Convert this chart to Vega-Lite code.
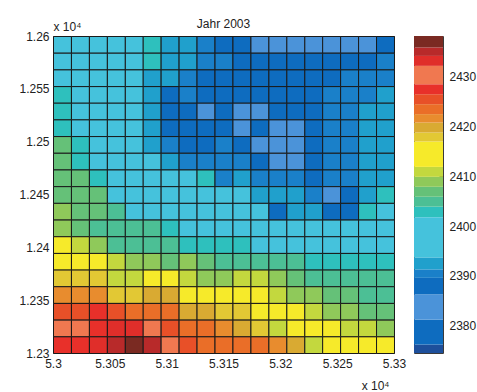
{
"$schema": "https://vega.github.io/schema/vega-lite/v6.json",
"autosize": {"type": "pad"},
"padding": {"left": 18, "top": 17, "right": 0, "bottom": 0},
"config": {
  "font": "Liberation Sans",
  "view": {"stroke": "#3a3a3a", "strokeWidth": 1},
  "axis": {"labelFont": "Liberation Sans", "labelFontSize": 12, "labelColor": "#222", "titleFont": "Liberation Sans", "titleFontSize": 12, "titleFontWeight": "normal", "titleColor": "#222", "grid": false, "domain": false, "ticks": false, "labelFlush": false, "labelOverlap": false}
},
"datasets": {
"cells": [
{"x":5.3,"y":1.25842,"v":2397.7},{"x":5.30158,"y":1.25842,"v":2397.7},{"x":5.30316,"y":1.25842,"v":2397.7},{"x":5.30474,"y":1.25842,"v":2397.7},{"x":5.30632,"y":1.25842,"v":2397.7},{"x":5.30789,"y":1.25842,"v":2402.8},{"x":5.30947,"y":1.25842,"v":2392.5},{"x":5.31105,"y":1.25842,"v":2392.5},{"x":5.31263,"y":1.25842,"v":2390.4},{"x":5.31421,"y":1.25842,"v":2378.7},{"x":5.31579,"y":1.25842,"v":2378.7},{"x":5.31737,"y":1.25842,"v":2383.7},{"x":5.31895,"y":1.25842,"v":2383.7},{"x":5.32053,"y":1.25842,"v":2383.7},{"x":5.32211,"y":1.25842,"v":2383.7},{"x":5.32368,"y":1.25842,"v":2383.7},{"x":5.32526,"y":1.25842,"v":2383.7},{"x":5.32684,"y":1.25842,"v":2383.7},{"x":5.32842,"y":1.25842,"v":2378.7},
{"x":5.3,"y":1.25684,"v":2397.7},{"x":5.30158,"y":1.25684,"v":2397.7},{"x":5.30316,"y":1.25684,"v":2397.7},{"x":5.30474,"y":1.25684,"v":2397.7},{"x":5.30632,"y":1.25684,"v":2397.7},{"x":5.30789,"y":1.25684,"v":2402.8},{"x":5.30947,"y":1.25684,"v":2392.5},{"x":5.31105,"y":1.25684,"v":2392.5},{"x":5.31263,"y":1.25684,"v":2390.4},{"x":5.31421,"y":1.25684,"v":2390.4},{"x":5.31579,"y":1.25684,"v":2378.7},{"x":5.31737,"y":1.25684,"v":2378.7},{"x":5.31895,"y":1.25684,"v":2378.7},{"x":5.32053,"y":1.25684,"v":2378.7},{"x":5.32211,"y":1.25684,"v":2378.7},{"x":5.32368,"y":1.25684,"v":2378.7},{"x":5.32526,"y":1.25684,"v":2378.7},{"x":5.32684,"y":1.25684,"v":2378.7},{"x":5.32842,"y":1.25684,"v":2390.4},
{"x":5.3,"y":1.25526,"v":2397.7},{"x":5.30158,"y":1.25526,"v":2397.7},{"x":5.30316,"y":1.25526,"v":2397.7},{"x":5.30474,"y":1.25526,"v":2397.7},{"x":5.30632,"y":1.25526,"v":2397.7},{"x":5.30789,"y":1.25526,"v":2392.5},{"x":5.30947,"y":1.25526,"v":2392.5},{"x":5.31105,"y":1.25526,"v":2390.4},{"x":5.31263,"y":1.25526,"v":2378.7},{"x":5.31421,"y":1.25526,"v":2378.7},{"x":5.31579,"y":1.25526,"v":2378.7},{"x":5.31737,"y":1.25526,"v":2378.7},{"x":5.31895,"y":1.25526,"v":2378.7},{"x":5.32053,"y":1.25526,"v":2378.7},{"x":5.32211,"y":1.25526,"v":2378.7},{"x":5.32368,"y":1.25526,"v":2378.7},{"x":5.32526,"y":1.25526,"v":2390.4},{"x":5.32684,"y":1.25526,"v":2390.4},{"x":5.32842,"y":1.25526,"v":2390.4},
{"x":5.3,"y":1.25368,"v":2402.8},{"x":5.30158,"y":1.25368,"v":2397.7},{"x":5.30316,"y":1.25368,"v":2397.7},{"x":5.30474,"y":1.25368,"v":2397.7},{"x":5.30632,"y":1.25368,"v":2397.7},{"x":5.30789,"y":1.25368,"v":2392.5},{"x":5.30947,"y":1.25368,"v":2378.7},{"x":5.31105,"y":1.25368,"v":2390.4},{"x":5.31263,"y":1.25368,"v":2378.7},{"x":5.31421,"y":1.25368,"v":2378.7},{"x":5.31579,"y":1.25368,"v":2378.7},{"x":5.31737,"y":1.25368,"v":2378.7},{"x":5.31895,"y":1.25368,"v":2378.7},{"x":5.32053,"y":1.25368,"v":2378.7},{"x":5.32211,"y":1.25368,"v":2378.7},{"x":5.32368,"y":1.25368,"v":2390.4},{"x":5.32526,"y":1.25368,"v":2390.4},{"x":5.32684,"y":1.25368,"v":2390.4},{"x":5.32842,"y":1.25368,"v":2392.5},
{"x":5.3,"y":1.25211,"v":2402.8},{"x":5.30158,"y":1.25211,"v":2397.7},{"x":5.30316,"y":1.25211,"v":2397.7},{"x":5.30474,"y":1.25211,"v":2397.7},{"x":5.30632,"y":1.25211,"v":2397.7},{"x":5.30789,"y":1.25211,"v":2392.5},{"x":5.30947,"y":1.25211,"v":2378.7},{"x":5.31105,"y":1.25211,"v":2378.7},{"x":5.31263,"y":1.25211,"v":2383.7},{"x":5.31421,"y":1.25211,"v":2378.7},{"x":5.31579,"y":1.25211,"v":2383.7},{"x":5.31737,"y":1.25211,"v":2383.7},{"x":5.31895,"y":1.25211,"v":2378.7},{"x":5.32053,"y":1.25211,"v":2378.7},{"x":5.32211,"y":1.25211,"v":2378.7},{"x":5.32368,"y":1.25211,"v":2390.4},{"x":5.32526,"y":1.25211,"v":2390.4},{"x":5.32684,"y":1.25211,"v":2392.5},{"x":5.32842,"y":1.25211,"v":2392.5},
{"x":5.3,"y":1.25053,"v":2402.8},{"x":5.30158,"y":1.25053,"v":2397.7},{"x":5.30316,"y":1.25053,"v":2397.7},{"x":5.30474,"y":1.25053,"v":2397.7},{"x":5.30632,"y":1.25053,"v":2397.7},{"x":5.30789,"y":1.25053,"v":2392.5},{"x":5.30947,"y":1.25053,"v":2378.7},{"x":5.31105,"y":1.25053,"v":2378.7},{"x":5.31263,"y":1.25053,"v":2378.7},{"x":5.31421,"y":1.25053,"v":2378.7},{"x":5.31579,"y":1.25053,"v":2383.7},{"x":5.31737,"y":1.25053,"v":2378.7},{"x":5.31895,"y":1.25053,"v":2383.7},{"x":5.32053,"y":1.25053,"v":2383.7},{"x":5.32211,"y":1.25053,"v":2378.7},{"x":5.32368,"y":1.25053,"v":2390.4},{"x":5.32526,"y":1.25053,"v":2390.4},{"x":5.32684,"y":1.25053,"v":2392.5},{"x":5.32842,"y":1.25053,"v":2392.5},
{"x":5.3,"y":1.24895,"v":2406.9},{"x":5.30158,"y":1.24895,"v":2402.8},{"x":5.30316,"y":1.24895,"v":2397.7},{"x":5.30474,"y":1.24895,"v":2397.7},{"x":5.30632,"y":1.24895,"v":2397.7},{"x":5.30789,"y":1.24895,"v":2392.5},{"x":5.30947,"y":1.24895,"v":2390.4},{"x":5.31105,"y":1.24895,"v":2378.7},{"x":5.31263,"y":1.24895,"v":2378.7},{"x":5.31421,"y":1.24895,"v":2390.4},{"x":5.31579,"y":1.24895,"v":2378.7},{"x":5.31737,"y":1.24895,"v":2383.7},{"x":5.31895,"y":1.24895,"v":2383.7},{"x":5.32053,"y":1.24895,"v":2383.7},{"x":5.32211,"y":1.24895,"v":2378.7},{"x":5.32368,"y":1.24895,"v":2390.4},{"x":5.32526,"y":1.24895,"v":2390.4},{"x":5.32684,"y":1.24895,"v":2392.5},{"x":5.32842,"y":1.24895,"v":2392.5},
{"x":5.3,"y":1.24737,"v":2406.9},{"x":5.30158,"y":1.24737,"v":2402.8},{"x":5.30316,"y":1.24737,"v":2397.7},{"x":5.30474,"y":1.24737,"v":2397.7},{"x":5.30632,"y":1.24737,"v":2397.7},{"x":5.30789,"y":1.24737,"v":2397.7},{"x":5.30947,"y":1.24737,"v":2392.5},{"x":5.31105,"y":1.24737,"v":2390.4},{"x":5.31263,"y":1.24737,"v":2390.4},{"x":5.31421,"y":1.24737,"v":2390.4},{"x":5.31579,"y":1.24737,"v":2390.4},{"x":5.31737,"y":1.24737,"v":2378.7},{"x":5.31895,"y":1.24737,"v":2383.7},{"x":5.32053,"y":1.24737,"v":2383.7},{"x":5.32211,"y":1.24737,"v":2378.7},{"x":5.32368,"y":1.24737,"v":2390.4},{"x":5.32526,"y":1.24737,"v":2390.4},{"x":5.32684,"y":1.24737,"v":2392.5},{"x":5.32842,"y":1.24737,"v":2392.5},
{"x":5.3,"y":1.24579,"v":2406.9},{"x":5.30158,"y":1.24579,"v":2406.9},{"x":5.30316,"y":1.24579,"v":2402.8},{"x":5.30474,"y":1.24579,"v":2397.7},{"x":5.30632,"y":1.24579,"v":2397.7},{"x":5.30789,"y":1.24579,"v":2397.7},{"x":5.30947,"y":1.24579,"v":2397.7},{"x":5.31105,"y":1.24579,"v":2397.7},{"x":5.31263,"y":1.24579,"v":2402.8},{"x":5.31421,"y":1.24579,"v":2390.4},{"x":5.31579,"y":1.24579,"v":2392.5},{"x":5.31737,"y":1.24579,"v":2390.4},{"x":5.31895,"y":1.24579,"v":2390.4},{"x":5.32053,"y":1.24579,"v":2390.4},{"x":5.32211,"y":1.24579,"v":2378.7},{"x":5.32368,"y":1.24579,"v":2390.4},{"x":5.32526,"y":1.24579,"v":2390.4},{"x":5.32684,"y":1.24579,"v":2392.5},{"x":5.32842,"y":1.24579,"v":2392.5},
{"x":5.3,"y":1.24421,"v":2406.9},{"x":5.30158,"y":1.24421,"v":2406.9},{"x":5.30316,"y":1.24421,"v":2406.9},{"x":5.30474,"y":1.24421,"v":2397.7},{"x":5.30632,"y":1.24421,"v":2397.7},{"x":5.30789,"y":1.24421,"v":2397.7},{"x":5.30947,"y":1.24421,"v":2397.7},{"x":5.31105,"y":1.24421,"v":2397.7},{"x":5.31263,"y":1.24421,"v":2397.7},{"x":5.31421,"y":1.24421,"v":2397.7},{"x":5.31579,"y":1.24421,"v":2397.7},{"x":5.31737,"y":1.24421,"v":2392.5},{"x":5.31895,"y":1.24421,"v":2392.5},{"x":5.32053,"y":1.24421,"v":2392.5},{"x":5.32211,"y":1.24421,"v":2390.4},{"x":5.32368,"y":1.24421,"v":2383.7},{"x":5.32526,"y":1.24421,"v":2378.7},{"x":5.32684,"y":1.24421,"v":2392.5},{"x":5.32842,"y":1.24421,"v":2402.8},
{"x":5.3,"y":1.24263,"v":2408.9},{"x":5.30158,"y":1.24263,"v":2406.9},{"x":5.30316,"y":1.24263,"v":2406.9},{"x":5.30474,"y":1.24263,"v":2404.9},{"x":5.30632,"y":1.24263,"v":2397.7},{"x":5.30789,"y":1.24263,"v":2397.7},{"x":5.30947,"y":1.24263,"v":2397.7},{"x":5.31105,"y":1.24263,"v":2397.7},{"x":5.31263,"y":1.24263,"v":2397.7},{"x":5.31421,"y":1.24263,"v":2397.7},{"x":5.31579,"y":1.24263,"v":2397.7},{"x":5.31737,"y":1.24263,"v":2397.7},{"x":5.31895,"y":1.24263,"v":2378.7},{"x":5.32053,"y":1.24263,"v":2392.5},{"x":5.32211,"y":1.24263,"v":2392.5},{"x":5.32368,"y":1.24263,"v":2378.7},{"x":5.32526,"y":1.24263,"v":2378.7},{"x":5.32684,"y":1.24263,"v":2402.8},{"x":5.32842,"y":1.24263,"v":2397.7},
{"x":5.3,"y":1.24105,"v":2408.9},{"x":5.30158,"y":1.24105,"v":2406.9},{"x":5.30316,"y":1.24105,"v":2404.9},{"x":5.30474,"y":1.24105,"v":2404.9},{"x":5.30632,"y":1.24105,"v":2404.9},{"x":5.30789,"y":1.24105,"v":2404.9},{"x":5.30947,"y":1.24105,"v":2402.8},{"x":5.31105,"y":1.24105,"v":2397.7},{"x":5.31263,"y":1.24105,"v":2397.7},{"x":5.31421,"y":1.24105,"v":2397.7},{"x":5.31579,"y":1.24105,"v":2397.7},{"x":5.31737,"y":1.24105,"v":2397.7},{"x":5.31895,"y":1.24105,"v":2397.7},{"x":5.32053,"y":1.24105,"v":2397.7},{"x":5.32211,"y":1.24105,"v":2397.7},{"x":5.32368,"y":1.24105,"v":2397.7},{"x":5.32526,"y":1.24105,"v":2397.7},{"x":5.32684,"y":1.24105,"v":2397.7},{"x":5.32842,"y":1.24105,"v":2397.7},
{"x":5.3,"y":1.23947,"v":2414.5},{"x":5.30158,"y":1.23947,"v":2410.9},{"x":5.30316,"y":1.23947,"v":2408.9},{"x":5.30474,"y":1.23947,"v":2404.9},{"x":5.30632,"y":1.23947,"v":2404.9},{"x":5.30789,"y":1.23947,"v":2404.9},{"x":5.30947,"y":1.23947,"v":2404.9},{"x":5.31105,"y":1.23947,"v":2402.8},{"x":5.31263,"y":1.23947,"v":2402.8},{"x":5.31421,"y":1.23947,"v":2402.8},{"x":5.31579,"y":1.23947,"v":2402.8},{"x":5.31737,"y":1.23947,"v":2397.7},{"x":5.31895,"y":1.23947,"v":2397.7},{"x":5.32053,"y":1.23947,"v":2397.7},{"x":5.32211,"y":1.23947,"v":2397.7},{"x":5.32368,"y":1.23947,"v":2397.7},{"x":5.32526,"y":1.23947,"v":2397.7},{"x":5.32684,"y":1.23947,"v":2397.7},{"x":5.32842,"y":1.23947,"v":2397.7},
{"x":5.3,"y":1.23789,"v":2414.5},{"x":5.30158,"y":1.23789,"v":2414.5},{"x":5.30316,"y":1.23789,"v":2414.5},{"x":5.30474,"y":1.23789,"v":2410.9},{"x":5.30632,"y":1.23789,"v":2408.9},{"x":5.30789,"y":1.23789,"v":2408.9},{"x":5.30947,"y":1.23789,"v":2406.9},{"x":5.31105,"y":1.23789,"v":2408.9},{"x":5.31263,"y":1.23789,"v":2406.9},{"x":5.31421,"y":1.23789,"v":2404.9},{"x":5.31579,"y":1.23789,"v":2404.9},{"x":5.31737,"y":1.23789,"v":2404.9},{"x":5.31895,"y":1.23789,"v":2404.9},{"x":5.32053,"y":1.23789,"v":2404.9},{"x":5.32211,"y":1.23789,"v":2402.8},{"x":5.32368,"y":1.23789,"v":2402.8},{"x":5.32526,"y":1.23789,"v":2402.8},{"x":5.32684,"y":1.23789,"v":2402.8},{"x":5.32842,"y":1.23789,"v":2402.8},
{"x":5.3,"y":1.23632,"v":2417.9},{"x":5.30158,"y":1.23632,"v":2417.9},{"x":5.30316,"y":1.23632,"v":2417.9},{"x":5.30474,"y":1.23632,"v":2410.9},{"x":5.30632,"y":1.23632,"v":2410.9},{"x":5.30789,"y":1.23632,"v":2414.5},{"x":5.30947,"y":1.23632,"v":2414.5},{"x":5.31105,"y":1.23632,"v":2410.9},{"x":5.31263,"y":1.23632,"v":2408.9},{"x":5.31421,"y":1.23632,"v":2408.9},{"x":5.31579,"y":1.23632,"v":2410.9},{"x":5.31737,"y":1.23632,"v":2410.9},{"x":5.31895,"y":1.23632,"v":2408.9},{"x":5.32053,"y":1.23632,"v":2406.9},{"x":5.32211,"y":1.23632,"v":2404.9},{"x":5.32368,"y":1.23632,"v":2404.9},{"x":5.32526,"y":1.23632,"v":2404.9},{"x":5.32684,"y":1.23632,"v":2404.9},{"x":5.32842,"y":1.23632,"v":2404.9},
{"x":5.3,"y":1.23474,"v":2421.6},{"x":5.30158,"y":1.23474,"v":2421.6},{"x":5.30316,"y":1.23474,"v":2421.6},{"x":5.30474,"y":1.23474,"v":2417.9},{"x":5.30632,"y":1.23474,"v":2417.9},{"x":5.30789,"y":1.23474,"v":2419.8},{"x":5.30947,"y":1.23474,"v":2419.8},{"x":5.31105,"y":1.23474,"v":2414.5},{"x":5.31263,"y":1.23474,"v":2414.5},{"x":5.31421,"y":1.23474,"v":2414.5},{"x":5.31579,"y":1.23474,"v":2414.5},{"x":5.31737,"y":1.23474,"v":2414.5},{"x":5.31895,"y":1.23474,"v":2410.9},{"x":5.32053,"y":1.23474,"v":2408.9},{"x":5.32211,"y":1.23474,"v":2408.9},{"x":5.32368,"y":1.23474,"v":2406.9},{"x":5.32526,"y":1.23474,"v":2406.9},{"x":5.32684,"y":1.23474,"v":2404.9},{"x":5.32842,"y":1.23474,"v":2404.9},
{"x":5.3,"y":1.23316,"v":2425.5},{"x":5.30158,"y":1.23316,"v":2425.5},{"x":5.30316,"y":1.23316,"v":2427.5},{"x":5.30474,"y":1.23316,"v":2425.5},{"x":5.30632,"y":1.23316,"v":2423.5},{"x":5.30789,"y":1.23316,"v":2423.5},{"x":5.30947,"y":1.23316,"v":2423.5},{"x":5.31105,"y":1.23316,"v":2419.8},{"x":5.31263,"y":1.23316,"v":2419.8},{"x":5.31421,"y":1.23316,"v":2417.9},{"x":5.31579,"y":1.23316,"v":2417.9},{"x":5.31737,"y":1.23316,"v":2414.5},{"x":5.31895,"y":1.23316,"v":2414.5},{"x":5.32053,"y":1.23316,"v":2414.5},{"x":5.32211,"y":1.23316,"v":2410.9},{"x":5.32368,"y":1.23316,"v":2408.9},{"x":5.32526,"y":1.23316,"v":2408.9},{"x":5.32684,"y":1.23316,"v":2406.9},{"x":5.32842,"y":1.23316,"v":2406.9},
{"x":5.3,"y":1.23158,"v":2430.3},{"x":5.30158,"y":1.23158,"v":2430.3},{"x":5.30316,"y":1.23158,"v":2427.5},{"x":5.30474,"y":1.23158,"v":2433.2},{"x":5.30632,"y":1.23158,"v":2433.2},{"x":5.30789,"y":1.23158,"v":2430.3},{"x":5.30947,"y":1.23158,"v":2425.5},{"x":5.31105,"y":1.23158,"v":2423.5},{"x":5.31263,"y":1.23158,"v":2423.5},{"x":5.31421,"y":1.23158,"v":2421.6},{"x":5.31579,"y":1.23158,"v":2419.8},{"x":5.31737,"y":1.23158,"v":2417.9},{"x":5.31895,"y":1.23158,"v":2410.9},{"x":5.32053,"y":1.23158,"v":2414.5},{"x":5.32211,"y":1.23158,"v":2414.5},{"x":5.32368,"y":1.23158,"v":2414.5},{"x":5.32526,"y":1.23158,"v":2410.9},{"x":5.32684,"y":1.23158,"v":2410.9},{"x":5.32842,"y":1.23158,"v":2408.9},
{"x":5.3,"y":1.23,"v":2427.5},{"x":5.30158,"y":1.23,"v":2427.5},{"x":5.30316,"y":1.23,"v":2433.2},{"x":5.30474,"y":1.23,"v":2435},{"x":5.30632,"y":1.23,"v":2437},{"x":5.30789,"y":1.23,"v":2435},{"x":5.30947,"y":1.23,"v":2430.3},{"x":5.31105,"y":1.23,"v":2425.5},{"x":5.31263,"y":1.23,"v":2423.5},{"x":5.31421,"y":1.23,"v":2423.5},{"x":5.31579,"y":1.23,"v":2423.5},{"x":5.31737,"y":1.23,"v":2423.5},{"x":5.31895,"y":1.23,"v":2421.6},{"x":5.32053,"y":1.23,"v":2419.8},{"x":5.32211,"y":1.23,"v":2410.9},{"x":5.32368,"y":1.23,"v":2414.5},{"x":5.32526,"y":1.23,"v":2414.5},{"x":5.32684,"y":1.23,"v":2414.5},{"x":5.32842,"y":1.23,"v":2414.5}
],
"bands": [
{"lo":2374.5,"hi":2376.2,"v":2375.3},{"lo":2376.2,"hi":2381.2,"v":2378.7},{"lo":2381.2,"hi":2386.3,"v":2383.7},{"lo":2386.3,"hi":2389.6,"v":2388},{"lo":2389.6,"hi":2391.3,"v":2390.4},{"lo":2391.3,"hi":2393.7,"v":2392.5},{"lo":2393.7,"hi":2401.8,"v":2397.7},{"lo":2401.8,"hi":2403.9,"v":2402.8},{"lo":2403.9,"hi":2405.9,"v":2404.9},{"lo":2405.9,"hi":2407.9,"v":2406.9},{"lo":2407.9,"hi":2409.9,"v":2408.9},{"lo":2409.9,"hi":2411.9,"v":2410.9},{"lo":2411.9,"hi":2417.0,"v":2414.5},{"lo":2417.0,"hi":2418.8,"v":2417.9},{"lo":2418.8,"hi":2420.8,"v":2419.8},{"lo":2420.8,"hi":2422.5,"v":2421.6},{"lo":2422.5,"hi":2424.5,"v":2423.5},{"lo":2424.5,"hi":2426.5,"v":2425.5},{"lo":2426.5,"hi":2428.5,"v":2427.5},{"lo":2428.5,"hi":2432.2,"v":2430.3},{"lo":2432.2,"hi":2434.2,"v":2433.2},{"lo":2434.2,"hi":2435.9,"v":2435},{"lo":2435.9,"hi":2438.2,"v":2437}
]
},
"spacing": 6,
"resolve": {"scale": {"color": "independent", "y": "independent"}},
"hconcat": [
{
  "width": 341, "height": 317,
  "title": {"text": "Jahr 2003", "frame": "group", "offset": 8, "dy": 28, "fontSize": 12, "fontWeight": "normal", "color": "#222", "font": "Liberation Sans", "baseline": "alphabetic"},
  "data": {"name": "cells"},
  "mark": {"type": "rect", "stroke": "#1a1a1a", "strokeWidth": 1},
  "encoding": {
    "x": {"field": "x", "type": "quantitative", "bin": {"binned": true, "step": 0.00157895},
      "scale": {"domain": [5.3, 5.33], "nice": false, "zero": false},
      "axis": {"values": [5.3, 5.305, 5.31, 5.315, 5.32, 5.325, 5.33], "format": ".3~f", "labelPadding": 5, "title": "x 10⁴", "titleX": 336, "titleY": 36, "titleAlign": "right", "titleBaseline": "alphabetic"}},
    "y": {"field": "y", "type": "quantitative", "bin": {"binned": true, "step": 0.00157895},
      "scale": {"domain": [1.23, 1.26], "nice": false, "zero": false},
      "axis": {"values": [1.23, 1.235, 1.24, 1.245, 1.25, 1.255, 1.26], "format": ".3~f", "labelPadding": 4, "title": "x 10⁴", "titleAngle": 0, "titleX": 0, "titleY": -6, "titleAlign": "left", "titleBaseline": "alphabetic"}},
    "color": {"field": "v", "type": "quantitative",
      "scale": {"type": "threshold", "domain": [2376.2, 2381.2, 2386.3, 2389.6, 2391.3, 2393.7, 2401.8, 2403.9, 2405.9, 2407.9, 2409.9, 2411.9, 2417.0, 2418.8, 2420.8, 2422.5, 2424.5, 2426.5, 2428.5, 2432.2, 2434.2, 2435.9],
        "range": ["#1d4f9b", "#0e6cbf", "#4b93d9", "#0e6cbf", "#1a80c9", "#20a0cc", "#45c2dc", "#2ec0bd", "#4cbf95", "#65c178", "#8fc95a", "#c3d83e", "#f6ea2a", "#e2c834", "#d9aa32", "#e88c2e", "#ea6e28", "#e85028", "#e8302a", "#f07850", "#e02e2a", "#b82a2a", "#7a2a22"]},
      "legend": null}
  }
},
{
  "width": 29, "height": 317,
  "data": {"name": "bands"},
  "mark": {"type": "rect"},
  "encoding": {
    "y": {"field": "lo", "type": "quantitative", "scale": {"domain": [2374.5, 2438.2], "nice": false, "zero": false},
      "axis": {"orient": "right", "values": [2380, 2390, 2400, 2410, 2420, 2430], "format": "d", "title": null, "ticks": true, "tickSize": -4, "tickColor": "#333", "labelPadding": 10}},
    "y2": {"field": "hi"},
    "color": {"field": "v", "type": "quantitative",
      "scale": {"type": "threshold", "domain": [2376.2, 2381.2, 2386.3, 2389.6, 2391.3, 2393.7, 2401.8, 2403.9, 2405.9, 2407.9, 2409.9, 2411.9, 2417.0, 2418.8, 2420.8, 2422.5, 2424.5, 2426.5, 2428.5, 2432.2, 2434.2, 2435.9],
        "range": ["#1d4f9b", "#0e6cbf", "#4b93d9", "#0e6cbf", "#1a80c9", "#20a0cc", "#45c2dc", "#2ec0bd", "#4cbf95", "#65c178", "#8fc95a", "#c3d83e", "#f6ea2a", "#e2c834", "#d9aa32", "#e88c2e", "#ea6e28", "#e85028", "#e8302a", "#f07850", "#e02e2a", "#b82a2a", "#7a2a22"]},
      "legend": null}
  }
}
]
}
